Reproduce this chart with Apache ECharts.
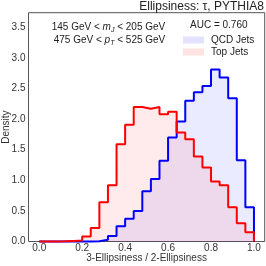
<!DOCTYPE html>
<html><head><meta charset="utf-8">
<script src="https://cdn.jsdelivr.net/npm/echarts@6/dist/echarts.min.js"></script>
<style>html,body{margin:0;padding:0;background:#fff}#c{width:266px;height:266px}</style>
</head><body><div id="c"></div>
<script>
const binEdges = [0.00,0.04,0.08,0.12,0.16,0.20,0.24,0.28,0.32,0.36,0.40,0.44,0.48,0.52,0.56,0.60,0.64,0.68,0.72,0.76,0.80,0.84,0.88,0.92,0.96,1.00];
const qcdDensity = [0,0,0,0,0,0.002,0.005,0.03,0.09,0.25,0.37,0.50,0.82,1.02,1.32,1.70,1.96,2.30,2.44,2.54,2.81,2.68,2.34,1.33,0.56];
const topDensity = [0,0,0.003,0.01,0.015,0.08,0.22,0.64,0.92,1.59,1.91,2.20,2.17,2.20,2.08,2.12,1.78,1.67,1.39,1.21,0.98,0.92,0.56,0.30,0.15];
const xTickValues = [0.0,0.2,0.4,0.6,0.8,1.0];
const yTickValues = [0.0,0.5,1.0,1.5,2.0,2.5,3.0,3.5];
const seriesNames = ['QCD Jets','Top Jets'];
const titleText = 'Ellipsiness: \u03c4, PYTHIA8';
const aucText = 'AUC = 0.760';

function stepPoints(edges, vals){
  const pts = [[edges[0],0]];
  for (let i=0;i<vals.length;i++){ pts.push([edges[i],vals[i]]); pts.push([edges[i+1],vals[i]]); }
  pts.push([edges[edges.length-1],0]);
  return pts;
}
const FF = 'Liberation Sans, Arial, sans-serif';
const blueFill = 'rgba(0,0,255,0.11)', redFill = 'rgba(255,0,0,0.11)';
const chart = echarts.init(document.getElementById('c'), null, {renderer:'canvas'});
chart.setOption({
  animation:false,
  textStyle:{fontFamily:FF},
  grid:{left:28.5,right:1.3,top:12.7,bottom:24.5,show:true,borderColor:'#555',borderWidth:1,containLabel:false,outerBoundsMode:'none'},
  xAxis:{type:'value',min:-0.05,max:1.05,
    axisLine:{show:false},axisTick:{show:false},splitLine:{show:false},
    axisLabel:{customValues:xTickValues,formatter:v=>v.toFixed(1),color:'#333',fontSize:10,margin:2,fontFamily:FF},
    name:'3-Ellipsiness / 2-Ellipsiness',nameLocation:'middle',nameGap:12,nameMoveOverlap:false,
    nameTextStyle:{fontSize:10,color:'#333',fontFamily:FF}},
  yAxis:{type:'value',min:0,max:3.74,
    axisLine:{show:false},axisTick:{show:false},splitLine:{show:false},
    axisLabel:{customValues:yTickValues,formatter:v=>v.toFixed(1),color:'#333',fontSize:10,margin:3,fontFamily:FF},
    name:'Density',nameLocation:'middle',nameGap:17,nameMoveOverlap:false,
    nameTextStyle:{fontSize:10,color:'#333',fontFamily:FF}},
  legend:{orient:'vertical',left:183,top:35,padding:0,itemGap:2,itemWidth:21,itemHeight:7,icon:'rect',selectedMode:false,
    textStyle:{fontSize:10,color:'#222',fontFamily:FF,padding:[0,0,0,2]},
    data:[{name:seriesNames[0],itemStyle:{color:blueFill,borderWidth:0}},{name:seriesNames[1],itemStyle:{color:redFill,borderWidth:0}}]},
  series:[
    {name:seriesNames[0],type:'line',data:stepPoints(binEdges,qcdDensity),symbol:'none',clip:false,
     lineStyle:{color:'#0000ff',width:2},itemStyle:{color:'#0000ff'},areaStyle:{color:blueFill}},
    {name:seriesNames[1],type:'line',data:stepPoints(binEdges,topDensity),symbol:'none',clip:false,
     lineStyle:{color:'#ff0000',width:2},itemStyle:{color:'#ff0000'},areaStyle:{color:redFill}}
  ],
  graphic:[
    {type:'text',x:264,y:6.5,style:{text:titleText,textAlign:'right',textVerticalAlign:'middle',font:'12px '+FF,fill:'#222'}},
    {type:'text',x:190,y:25,style:{text:aucText,textAlign:'left',textVerticalAlign:'middle',font:'10px '+FF,fill:'#222'}},
    {type:'text',x:108.5,y:27,style:{text:'145 GeV < {i|m}{s|J} < 205 GeV',textAlign:'center',textVerticalAlign:'middle',font:'10px '+FF,fill:'#222',
      rich:{i:{fontStyle:'italic',fontSize:10,fontFamily:FF,fill:'#222'},s:{fontStyle:'italic',fontSize:7,fontFamily:FF,fill:'#222',padding:[6,0,0,0],verticalAlign:'bottom'}}}},
    {type:'text',x:109.5,y:40.5,style:{text:'475 GeV < {i|p}{s|T} < 525 GeV',textAlign:'center',textVerticalAlign:'middle',font:'10px '+FF,fill:'#222',
      rich:{i:{fontStyle:'italic',fontSize:10,fontFamily:FF,fill:'#222'},s:{fontStyle:'italic',fontSize:7,fontFamily:FF,fill:'#222',padding:[6,0,0,0],verticalAlign:'bottom'}}}}
  ]
});
</script></body></html>
